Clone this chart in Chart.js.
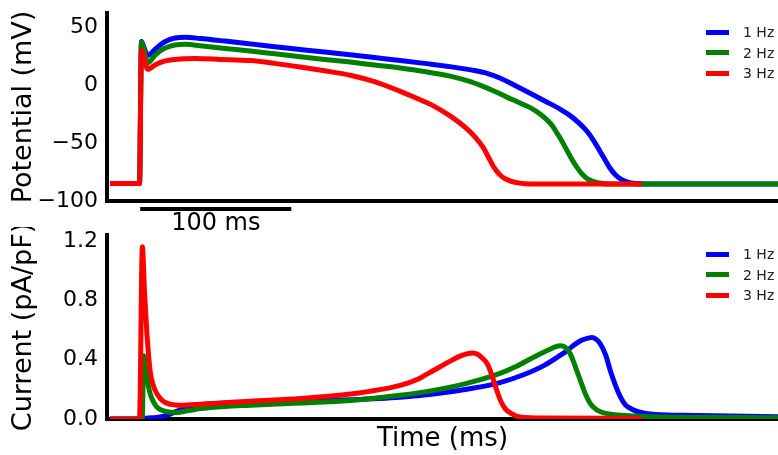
<!DOCTYPE html>
<html><head><meta charset="utf-8">
<script src="https://cdn.jsdelivr.net/npm/chart.js@4.4.1/dist/chart.umd.min.js"></script>
<style>
html,body{margin:0;padding:0;background:#fff;}
#wrap{position:relative;width:778px;height:455px;overflow:hidden;font-family:"DejaVu Sans",sans-serif;}
canvas{position:absolute;left:0;}
#c1{top:2px;}
#c2{top:227px;}
.legend{position:absolute;left:706px;font-size:14px;color:#222;}
.legend div{height:20.5px;display:flex;align-items:center;white-space:nowrap;}
.legend span.sw{display:inline-block;width:23px;height:5px;margin-right:14px;}
</style></head>
<body>
<div id="wrap">
<canvas id="c1" width="778" height="242"></canvas>
<canvas id="c2" width="778" height="228"></canvas>
<div class="legend" id="leg1" style="top:22px"></div>
<div class="legend" id="leg2" style="top:244px"></div>
</div>
<script>
// ---- series labels and colours ----
const seriesNames = ['1 Hz', '2 Hz', '3 Hz'];
const seriesColors = ['#0000ff', '#008000', '#ff0000'];

// ---- axis ticks ----
const potentialTicks = [-100, -50, 0, 50];
const currentTicks = [0.0, 0.4, 0.8, 1.2];
const scaleBarStart = 22;   // ms
const scaleBarLength = 100; // ms
const scaleBarLabel = '100 ms';

// ---- Potential (mV) traces ----
const vT1 = [2, 21.5, 22.8, 24, 27, 32, 38, 45, 52, 61.6, 78, 94.7, 111, 127.8, 144, 160.9, 177, 194, 210, 227, 244, 252, 260, 270, 280, 290, 300, 306, 312, 318, 322.5, 326.5, 330, 333, 336.5, 340, 346, 356, 444];
const vV1 = [-85, -85, 37.5, 34, 25.5, 31, 37, 40.5, 41, 40, 37.8, 35.4, 33, 30.6, 28.3, 26, 23.6, 21.1, 18.6, 15.8, 12.2, 9.8, 6, -0.5, -7.2, -14, -21, -26, -32.5, -40.5, -49, -57.8, -65.5, -72, -77.5, -81.2, -84.3, -85.3, -85.3];

const vT2 = [2, 21.5, 22.8, 24, 27, 32, 38, 45, 52, 61.6, 78, 94.7, 111, 127.8, 144, 160.9, 177, 194, 210, 227, 240, 248, 255.6, 265, 274, 282, 288, 294, 298, 301.5, 304.6, 308, 311, 314.5, 318, 324.5, 333, 444];
const vV2 = [-85, -85, 37, 33, 19, 26, 31.5, 34.5, 35, 33.8, 31.5, 29.3, 26.8, 24.3, 22, 19.7, 17.2, 14.6, 11.6, 7.6, 3, -0.8, -5, -10.7, -16, -21, -26.5, -34, -42, -49.5, -57, -65, -71, -77, -81, -84.3, -85.3, -85.3];

const vT3 = [2, 21.5, 22.8, 24, 27, 32, 38, 45, 52, 58.3, 75, 94.7, 111, 127.8, 144, 160.9, 177, 194, 205, 216, 228, 238.4, 244, 249, 252.5, 255.6, 258, 260.3, 263.5, 267, 273, 280, 354];
const vV3 = [-85, -85, 30, 26, 13.5, 17.5, 20.5, 22, 22.6, 22.7, 22, 21, 18.6, 15.5, 12.2, 8.4, 2.8, -5.5, -11.5, -18, -27.5, -38, -45.5, -54, -62.5, -70, -74.5, -77.8, -80.8, -82.8, -84.6, -85.3, -85.3];

// ---- Current (pA/pF) traces ----
const iT1 = [2, 22, 24, 30, 36, 41, 46, 52, 58, 65, 80, 95, 128, 161, 194, 216, 238, 260, 276, 289, 300, 304.4, 308, 314, 319, 321, 324, 326.5, 330, 333, 336.5, 339.7, 343, 348.5, 359.5, 380, 444];
const iV1 = [0, 0, 0.004, 0.008, 0.015, 0.03, 0.052, 0.075, 0.09, 0.1, 0.108, 0.113, 0.12, 0.13, 0.147, 0.168, 0.2, 0.245, 0.3, 0.36, 0.43, 0.46, 0.49, 0.53, 0.547, 0.549, 0.535, 0.505, 0.43, 0.327, 0.225, 0.149, 0.095, 0.06, 0.033, 0.025, 0.015];

const iT2 = [2, 23.3, 24.3, 26.3, 28.5, 30.5, 32.9, 36, 39.5, 46, 53, 61.6, 78, 94.7, 128, 161, 194, 216, 238, 260, 271, 282, 292, 297, 300, 303, 306.6, 310, 313.2, 316.5, 319.8, 323, 326.5, 332, 338, 360, 444];
const iV2 = [0, 0, 0.427, 0.282, 0.173, 0.12, 0.082, 0.06, 0.049, 0.044, 0.055, 0.07, 0.085, 0.093, 0.107, 0.125, 0.16, 0.193, 0.24, 0.307, 0.355, 0.415, 0.465, 0.488, 0.493, 0.485, 0.438, 0.35, 0.26, 0.17, 0.104, 0.07, 0.049, 0.034, 0.027, 0.016, 0.008];

const iT3 = [2, 21.5, 23.4, 24.8, 26.3, 28.5, 30.5, 32.9, 36, 39.5, 45, 50.3, 61.6, 78, 94.7, 128, 161, 194, 206, 216, 228, 234, 238.4, 242, 245.5, 248.5, 251.7, 253.8, 255.8, 258, 260.3, 263.5, 267, 273.5, 290, 354];
const iV3 = [0, 0, 1.16, 0.86, 0.593, 0.327, 0.23, 0.173, 0.13, 0.107, 0.095, 0.093, 0.1, 0.11, 0.12, 0.138, 0.168, 0.227, 0.27, 0.327, 0.395, 0.425, 0.44, 0.445, 0.435, 0.41, 0.371, 0.32, 0.26, 0.19, 0.127, 0.07, 0.04, 0.013, 0.006, 0.004];

function pts(t, v) { return t.map((x, i) => ({x: x, y: v[i]})); }
function makeSets(list) {
  return list.map((p, i) => ({
    label: seriesNames[i],
    data: pts(p[0], p[1]),
    borderColor: seriesColors[i],
    backgroundColor: seriesColors[i],
    order: 3 - i
  }));
}
function fmtPot(v) { return v < 0 ? '\u2212' + Math.abs(v) : String(v); }
function fmtCur(v) { return Number(v).toFixed(1); }

Chart.defaults.font.family = '"DejaVu Sans", sans-serif';
Chart.defaults.color = '#000';

function makeOptions(yMin, yMax, yTicks, fmt, yTitle, xTitle, padTop, xHeight) {
  return {
    responsive: false, animation: false, devicePixelRatio: 1,
    layout: {padding: {top: padTop, left: 0, right: 0, bottom: 0}},
    plugins: {legend: {display: false}, tooltip: {enabled: false}},
    elements: {
      point: {radius: 0},
      line: {borderWidth: 5, cubicInterpolationMode: 'monotone', borderJoinStyle: 'round', borderCapStyle: 'butt', fill: false}
    },
    scales: {
      x: {
        type: 'linear', min: 0, max: 444,
        grid: {display: false, drawTicks: false},
        ticks: {display: false},
        border: {display: true, color: '#000', width: 4},
        title: {display: !!xTitle, text: xTitle || '', color: '#000', font: {size: 26}, padding: {top: 0, bottom: 0}},
        afterFit(s) { s.height = xHeight; s.paddingLeft = 0; s.paddingRight = 0; }
      },
      y: {
        type: 'linear', min: yMin, max: yMax,
        grid: {display: false, drawTicks: false},
        border: {display: true, color: '#000', width: 4},
        ticks: {color: '#000', font: {size: 22}, padding: 9, callback: (v) => fmt(v)},
        afterBuildTicks(s) { s.ticks = yTicks.map(v => ({value: v})); },
        title: {display: true, text: yTitle, color: '#000', font: {size: 27}, padding: {top: 8, bottom: 0}},
        afterFit(s) { s.width = 107; s.paddingTop = 0; s.paddingBottom = 0; }
      }
    }
  };
}

const scaleBarPlugin = {
  id: 'scaleBar',
  afterDraw(chart) {
    const xs = chart.scales.x;
    const ctx = chart.ctx;
    const x0 = xs.getPixelForValue(scaleBarStart);
    const x1 = xs.getPixelForValue(scaleBarStart + scaleBarLength);
    const yb = chart.chartArea.bottom + 8;
    ctx.save();
    ctx.strokeStyle = '#000';
    ctx.lineWidth = 4;
    ctx.beginPath(); ctx.moveTo(x0, yb); ctx.lineTo(x1, yb); ctx.stroke();
    ctx.fillStyle = '#000';
    ctx.font = '24px "DejaVu Sans", sans-serif';
    ctx.textAlign = 'center'; ctx.textBaseline = 'middle';
    ctx.fillText(scaleBarLabel, (x0 + x1) / 2, yb + 15);
    ctx.restore();
  }
};

new Chart(document.getElementById('c1'), {
  type: 'line',
  data: {datasets: makeSets([[vT1, vV1], [vT2, vV2], [vT3, vV3]])},
  options: makeOptions(-100, 62, potentialTicks, fmtPot, 'Potential (mV)', null, 11, 43),
  plugins: [scaleBarPlugin]
});

new Chart(document.getElementById('c2'), {
  type: 'line',
  data: {datasets: makeSets([[iT1, iV1], [iT2, iV2], [iT3, iV3]])},
  options: makeOptions(0, 1.24, currentTicks, fmtCur, 'Current (pA/pF)', 'Time (ms)', 8, 36)
});

function buildLegend(id) {
  const el = document.getElementById(id);
  seriesNames.forEach((n, i) => {
    const row = document.createElement('div');
    const sw = document.createElement('span');
    sw.className = 'sw'; sw.style.background = seriesColors[i];
    row.appendChild(sw);
    row.appendChild(document.createTextNode(n));
    el.appendChild(row);
  });
}
buildLegend('leg1');
buildLegend('leg2');
</script>
</body></html>
